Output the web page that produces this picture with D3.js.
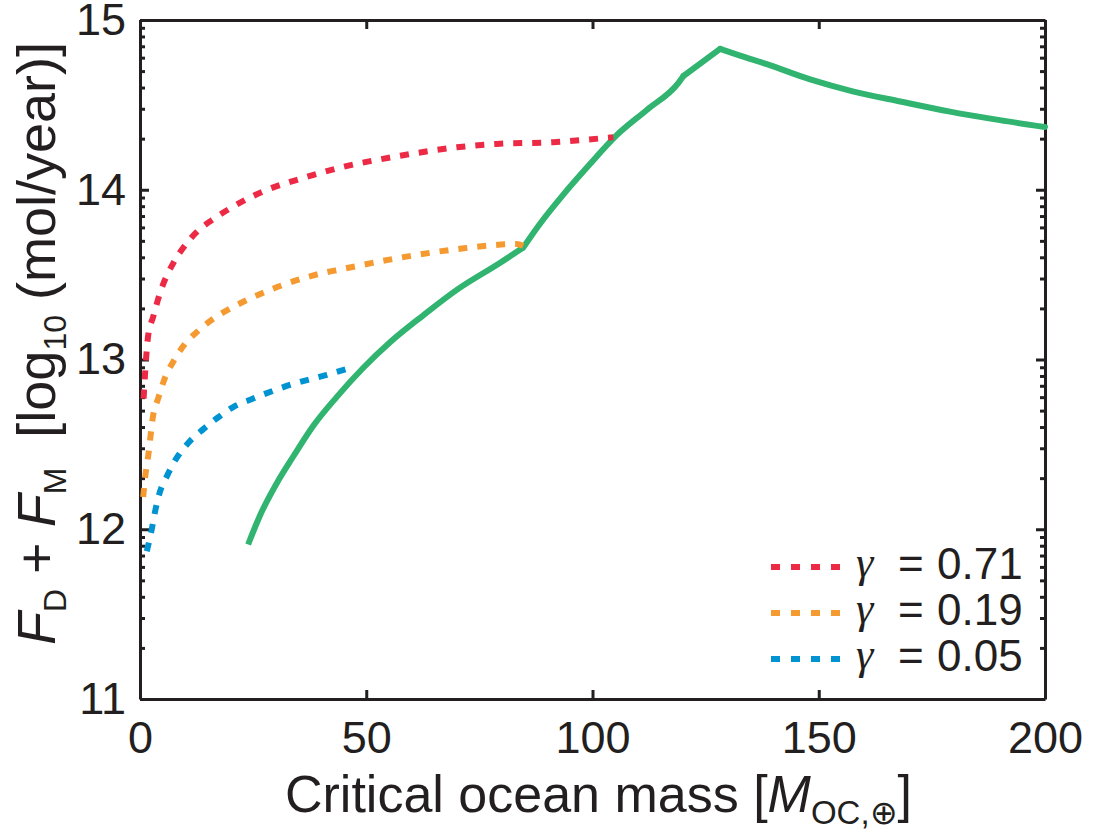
<!DOCTYPE html>
<html>
<head>
<meta charset="utf-8">
<script src="https://cdn.jsdelivr.net/npm/d3@7"></script>
<style>
  body { margin: 0; background: #fff; }
  svg { font-family: "Liberation Sans", Arial, sans-serif; }
  .axis path, .axis line { stroke: #231f20; stroke-width: 3; }
  .axis text { font-size: 45px; fill: #231f20; font-family: "Liberation Sans", Arial, sans-serif; }
  .curve { fill: none; stroke-width: 6; }
</style>
</head>
<body>
<div id="chart"></div>
<script>
// x = critical ocean mass, y = log10 of F_D + F_M
const redX = [0.8, 1.2, 1.8, 2.9, 4.4, 7.4, 9.6, 12.5, 15.8, 19.9, 27.2, 36.1, 44.2, 57.5, 70, 78.8, 91.3, 104.6];
const redY = [12.77, 12.95, 13.14, 13.25, 13.39, 13.57, 13.66, 13.75, 13.82, 13.89, 13.99, 14.07, 14.13, 14.20, 14.25, 14.27, 14.28, 14.31];

const orangeX = [0.7, 1.2, 1.8, 2.9, 4.0, 5.5, 7.4, 9.9, 12.9, 16.2, 19.9, 23.6, 31.7, 40.5, 44.2, 57.5, 70, 83.2, 84.7];
const orangeY = [12.19, 12.32, 12.43, 12.67, 12.77, 12.89, 12.99, 13.09, 13.17, 13.24, 13.30, 13.35, 13.44, 13.51, 13.53, 13.60, 13.65, 13.68, 13.67];

const blueX = [1.5, 2.6, 3.3, 4.4, 5.9, 8.1, 10.7, 14, 17.3, 20.6, 25, 33.1, 41.3, 46.4];
const blueY = [11.87, 12.0, 12.10, 12.22, 12.31, 12.42, 12.51, 12.59, 12.66, 12.72, 12.77, 12.85, 12.91, 12.95];

const greenX = [23.9, 26.5, 30.2, 33.9, 38.3, 43.5, 49.3, 55.2, 62.6, 70, 79.6, 84.7, 88.4, 93.5, 99.4, 105.3, 112, 119, 120.1, 128.2, 132.6, 138.5, 148.1, 157.5, 168, 179, 190, 200];
const greenY = [11.91, 12.08, 12.27, 12.43, 12.61, 12.78, 12.95, 13.10, 13.26, 13.41, 13.57, 13.66, 13.80, 13.97, 14.15, 14.32, 14.47, 14.63, 14.67, 14.83, 14.79, 14.74, 14.65, 14.58, 14.52, 14.46, 14.41, 14.37];
// regime changes on the green curve (corners, not smoothed across)
const greenBreaks = [84.7, 120.1, 128.2];

const gammaLabels = ["0.71", "0.19", "0.05"];
const xTicks = [0, 50, 100, 150, 200];
const yExponents = [11, 12, 13, 14, 15];

// SVG size and margins
const width_raw = 1100, height_raw = 837;
const margin = {top: 20, right: 55, bottom: 138, left: 140};
const width = width_raw - margin.left - margin.right,
      height = height_raw - margin.top - margin.bottom;

const svg = d3.select("#chart").append("svg")
    .attr("width", width_raw)
    .attr("height", height_raw)
    .append("g")
    .attr("transform", `translate(${margin.left}, ${margin.top})`);

// Scales
const x = d3.scaleLinear().domain([0, 200]).range([0, width]);
const y = d3.scaleLog().domain([1e11, 1e15]).range([height, 0]);

const majors = yExponents.map(e => Math.pow(10, e));
const minors = y.ticks().filter(v => !majors.some(m => Math.abs(v / m - 1) < 1e-9));

// Axes, ticks pointing inward on all four sides
svg.append("g").attr("class", "axis")
    .attr("transform", `translate(0, ${height})`)
    .call(d3.axisBottom(x).tickValues(xTicks).tickSizeInner(-9).tickSizeOuter(0).tickPadding(22));

svg.append("g").attr("class", "axis")
    .call(d3.axisTop(x).tickValues(xTicks).tickSizeInner(-9).tickSizeOuter(0).tickFormat(""));

svg.append("g").attr("class", "axis")
    .call(d3.axisLeft(y).tickValues(majors).tickSizeInner(-9).tickSizeOuter(0).tickPadding(14)
        .tickFormat(d => Math.round(Math.log10(d))));

svg.append("g").attr("class", "axis")
    .call(d3.axisLeft(y).tickValues(minors).tickSizeInner(-5).tickSizeOuter(0).tickFormat(""))
    .select(".domain").remove();

svg.append("g").attr("class", "axis")
    .attr("transform", `translate(${width}, 0)`)
    .call(d3.axisRight(y).tickValues(majors).tickSizeInner(-9).tickSizeOuter(0).tickFormat(""));

svg.append("g").attr("class", "axis")
    .attr("transform", `translate(${width}, 0)`)
    .call(d3.axisRight(y).tickValues(minors).tickSizeInner(-5).tickSizeOuter(0).tickFormat(""))
    .select(".domain").remove();

svg.selectAll(".axis .tick text").attr("font-size", null);

// Curves
const line = d3.line()
    .x(d => x(d[0]))
    .y(d => y(Math.pow(10, d[1])))
    .curve(d3.curveMonotoneX);

// Green: smooth pieces joined at the corners
const greenPts = d3.zip(greenX, greenY);
const cuts = [greenX[0], ...greenBreaks, greenX[greenX.length - 1]];
for (let i = 0; i < cuts.length - 1; i++) {
    svg.append("path")
        .datum(greenPts.filter(d => d[0] >= cuts[i] && d[0] <= cuts[i + 1]))
        .attr("class", "curve")
        .attr("stroke", "#30b46f")
        .attr("stroke-linecap", i === 0 ? "butt" : "round")
        .attr("d", line);
}

const dashed = [
    {xs: redX, ys: redY, color: "#ed2a45"},
    {xs: orangeX, ys: orangeY, color: "#f59a31"},
    {xs: blueX, ys: blueY, color: "#0093d1"}
];

dashed.forEach(s => {
    svg.append("path")
        .datum(d3.zip(s.xs, s.ys))
        .attr("class", "curve")
        .attr("stroke", s.color)
        .attr("stroke-dasharray", "9,10")
        .attr("d", line);
});

// Legend
const legend = svg.append("g").attr("transform", `translate(${631}, ${547})`);
dashed.forEach((s, i) => {
    const g = legend.append("g").attr("transform", `translate(0, ${i * 46})`);
    g.append("line")
        .attr("x1", 0).attr("x2", 70)
        .attr("stroke", s.color).attr("stroke-width", 6)
        .attr("stroke-dasharray", "9,11");
    g.append("text").attr("x", 85).attr("y", 10)
        .attr("font-size", 44).attr("fill", "#231f20")
        .attr("font-family", "'Liberation Serif', serif").attr("font-style", "italic")
        .text("γ");
    g.append("text").attr("x", 127).attr("y", 12)
        .attr("font-size", 44).attr("fill", "#231f20")
        .text("=");
    g.append("text").attr("x", 166).attr("y", 12)
        .attr("font-size", 44).attr("fill", "#231f20")
        .text(gammaLabels[i]);
});

// X axis label
const xl = svg.append("text")
    .attr("x", 145).attr("y", 792)
    .attr("font-size", 52).attr("fill", "#231f20");
xl.append("tspan").text("Critical ocean mass [");
xl.append("tspan").attr("font-style", "italic").text("M");
xl.append("tspan").attr("font-size", 33).attr("dy", 12).text("OC,⊕");
xl.append("tspan").attr("dy", -12).text("]");

// Y axis label
const yl = svg.append("text")
    .attr("transform", "rotate(-90)")
    .attr("x", -625).attr("y", -85)
    .attr("font-size", 54).attr("fill", "#231f20");
yl.append("tspan").attr("font-style", "italic").text("F");
yl.append("tspan").attr("font-size", 32).attr("dy", 11).text("D");
yl.append("tspan").attr("dy", -11).text(" + ");
yl.append("tspan").attr("font-style", "italic").text("F");
yl.append("tspan").attr("font-size", 32).attr("dy", 11).text("M");
yl.append("tspan").attr("dy", -11).text("\u00a0\u00a0[log");
yl.append("tspan").attr("font-size", 32).attr("dy", 11).text("10");
yl.append("tspan").attr("dy", -11).text(" (mol/year)]");
</script>
</body>
</html>
